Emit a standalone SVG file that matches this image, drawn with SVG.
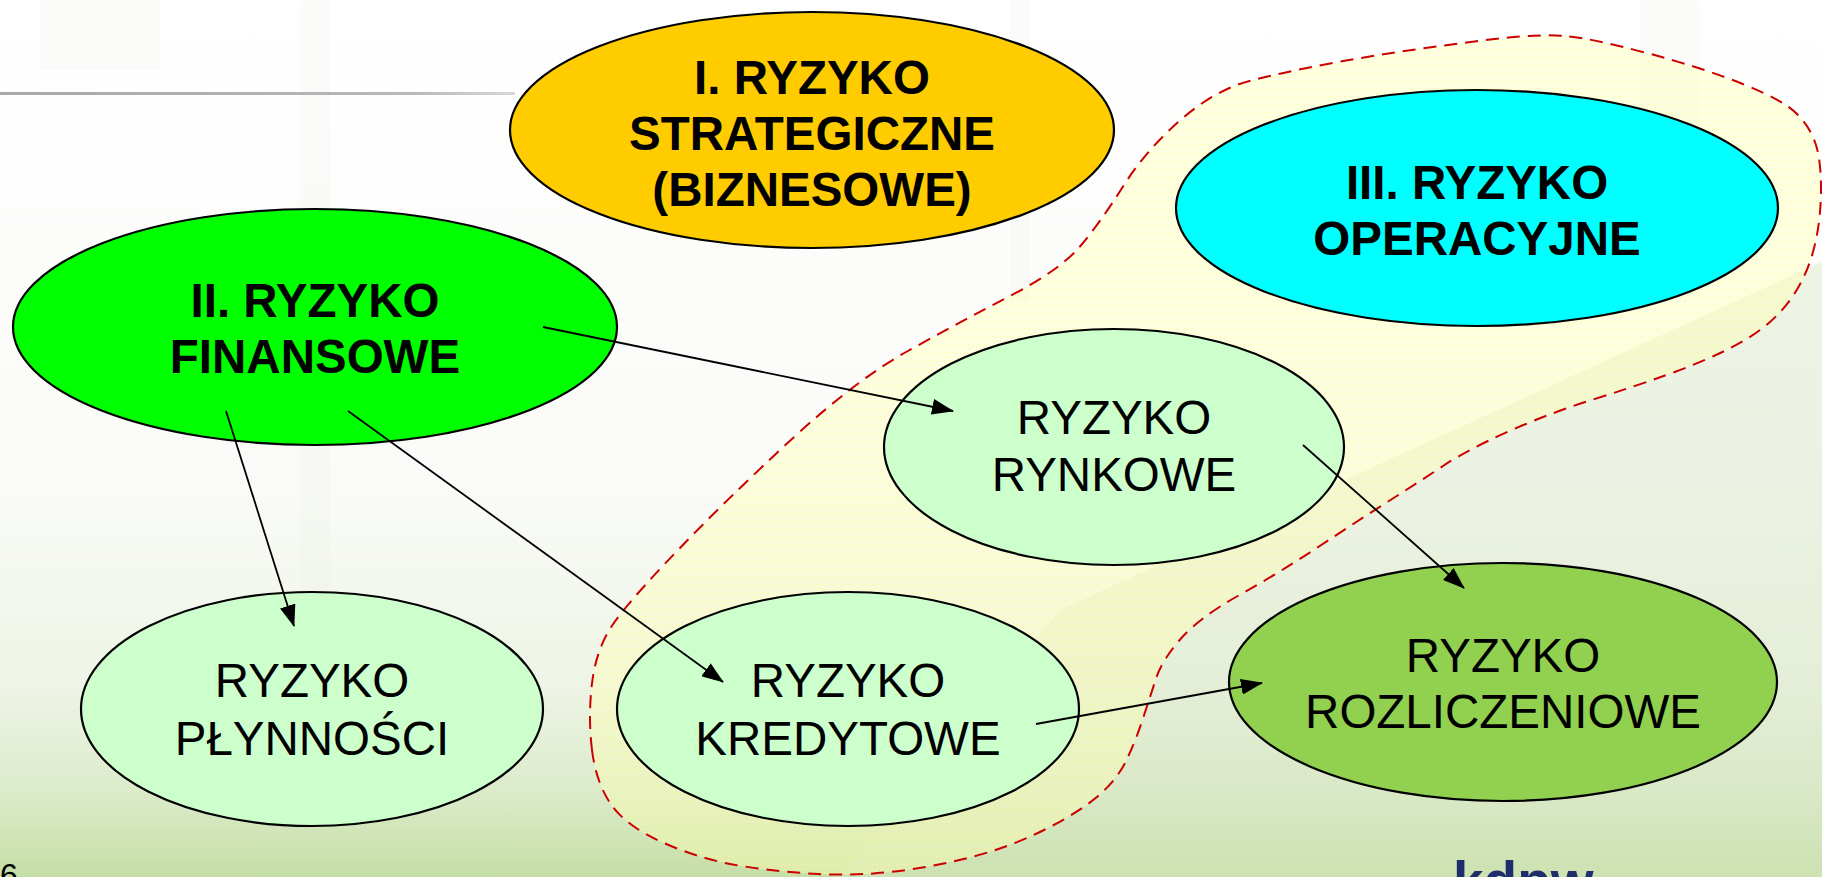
<svg xmlns="http://www.w3.org/2000/svg" width="1822" height="877" viewBox="0 0 1822 877">
  <style>
    .node { stroke: #000; stroke-width: 2.2; }
    .bold { font-family: "Liberation Sans", Arial, sans-serif; font-weight: bold; font-size: 47.5px; text-anchor: middle; fill: #000; }
    .reg { font-family: "Liberation Sans", Arial, sans-serif; font-size: 47.5px; text-anchor: middle; fill: #000; }
    .link { stroke: #000; stroke-width: 1.8; fill: none; marker-end: url(#arrow); }
  </style>
  <defs>
    <linearGradient id="bg" x1="0" y1="0" x2="0" y2="1">
      <stop offset="0" stop-color="#ffffff"/>
      <stop offset="0.55" stop-color="#fafbf8"/>
      <stop offset="0.78" stop-color="#eef4e6"/>
      <stop offset="0.9" stop-color="#dcebcb"/>
      <stop offset="1" stop-color="#c6dea6"/>
    </linearGradient>
    <linearGradient id="rule" x1="0" y1="0" x2="1" y2="0">
      <stop offset="0" stop-color="#a8a8a8"/>
      <stop offset="0.8" stop-color="#b8b8b8"/>
      <stop offset="1" stop-color="#d8d8d8"/>
    </linearGradient>
    <pattern id="dots" width="4" height="4" patternUnits="userSpaceOnUse">
      <rect width="4" height="4" fill="#ffffb8" fill-opacity="0.38"/>
      <rect width="2" height="2" fill="#ffff80" fill-opacity="0.25"/>
    </pattern>
    <marker id="arrow" markerWidth="22" markerHeight="16" refX="21" refY="8" orient="auto" markerUnits="userSpaceOnUse">
      <path d="M0,0 L22,8 L0,16 z" fill="#000"/>
    </marker>
  </defs>

  <!-- backdrop -->
  <rect width="1822" height="877" fill="url(#bg)"/>
  <g fill="#e9ece6" fill-opacity="0.18">
    <rect x="40" y="0" width="120" height="70"/>
    <rect x="300" y="0" width="30" height="720"/>
    <rect x="1010" y="0" width="20" height="300"/>
    <rect x="1640" y="0" width="60" height="280"/>
  </g>
  <polygon points="1822,262 1822,877 840,877 1060,610" fill="#d6e5c2" fill-opacity="0.4"/>
  <rect x="0" y="92" width="515" height="3" fill="url(#rule)"/>

  <!-- clearing-risk zone -->
  <path id="zone" d="M592,750 Q588,717 592,683.5 Q596,650 611.5,626.5 Q627,603 678,550 Q729,497 792.5,438.5 Q856,380 907,351.5 Q958,323 1009,296.5 Q1060,270 1080,246.5 Q1100,223 1123,186.5 Q1146,150 1180.5,120 Q1215,90 1249.5,81 Q1284,72 1330,63.5 Q1376,55 1422,48.5 Q1468,42 1504,38 Q1540,34 1565,36 Q1590,38 1645,52.5 Q1700,67 1741.5,83.5 Q1783,100 1796.5,113.5 Q1810,127 1815.5,143.5 Q1821,160 1821,188.5 Q1821,217 1815.5,242 Q1810,267 1798.5,287 Q1787,307 1770,322 Q1753,337 1726.5,350 Q1700,363 1666.5,375 Q1633,387 1591.5,400 Q1550,413 1508.5,431.5 Q1467,450 1444.5,465 Q1422,480 1390.5,500 Q1359,520 1319,546.5 Q1279,573 1239.5,595 Q1200,617 1181,638.5 Q1162,660 1156,678.5 Q1150,697 1143,718.5 Q1136,740 1126.5,760 Q1117,780 1097.5,796.5 Q1078,813 1044,830 Q1010,847 971.5,857 Q933,867 894.5,871.5 Q856,876 818,874 Q780,872 741.5,866 Q703,860 665,843.5 Q627,827 611.5,805 Q596,783 592,750 Z" fill="url(#dots)" stroke="#cc0000" stroke-width="2" stroke-dasharray="13,8"/>

  <g id="n-strategic">
    <ellipse class="node" cx="812" cy="130" rx="302" ry="118" fill="#ffcc00"/>
    <text class="bold" x="812" y="94">I. RYZYKO</text>
    <text class="bold" x="812" y="150">STRATEGICZNE</text>
    <text class="bold" x="812" y="206">(BIZNESOWE)</text>
  </g>
  <g id="n-financial">
    <ellipse class="node" cx="315" cy="327" rx="302" ry="118" fill="#00ff00"/>
    <text class="bold" x="315" y="317">II. RYZYKO</text>
    <text class="bold" x="315" y="373">FINANSOWE</text>
  </g>
  <g id="n-operational">
    <ellipse class="node" cx="1477" cy="208" rx="301" ry="118" fill="#00ffff"/>
    <text class="bold" x="1477" y="199">III. RYZYKO</text>
    <text class="bold" x="1477" y="255">OPERACYJNE</text>
  </g>
  <g id="n-market">
    <ellipse class="node" cx="1114" cy="447" rx="230" ry="118" fill="#ccffcc"/>
    <text class="reg" x="1114" y="434">RYZYKO</text>
    <text class="reg" x="1114" y="491">RYNKOWE</text>
  </g>
  <g id="n-liquidity">
    <ellipse class="node" cx="312" cy="709" rx="231" ry="117" fill="#ccffcc"/>
    <text class="reg" x="312" y="697">RYZYKO</text>
    <text class="reg" x="312" y="755">PŁYNNOŚCI</text>
  </g>
  <g id="n-credit">
    <ellipse class="node" cx="848" cy="709" rx="231" ry="117" fill="#ccffcc"/>
    <text class="reg" x="848" y="697">RYZYKO</text>
    <text class="reg" x="848" y="755">KREDYTOWE</text>
  </g>
  <g id="n-settlement">
    <ellipse class="node" cx="1503" cy="682" rx="274" ry="119" fill="#92d050"/>
    <text class="reg" x="1503" y="672">RYZYKO</text>
    <text class="reg" x="1503" y="728">ROZLICZENIOWE</text>
  </g>

  <g id="connectors">
    <line class="link" x1="543" y1="327" x2="953" y2="411"/>
    <line class="link" x1="348" y1="411" x2="723" y2="682"/>
    <line class="link" x1="226" y1="411" x2="294" y2="626"/>
    <line class="link" x1="1303" y1="445" x2="1464" y2="588"/>
    <line class="link" x1="1036" y1="724" x2="1262" y2="683"/>
  </g>

  <!-- footer -->
  <text x="0" y="886" font-family="Liberation Sans, Arial, sans-serif" font-size="32" fill="#000">6</text>
  <text x="1453" y="900" font-family="Liberation Sans, Arial, sans-serif" font-weight="bold" font-size="55" fill="#1f2d6b">kdpw</text>
</svg>
